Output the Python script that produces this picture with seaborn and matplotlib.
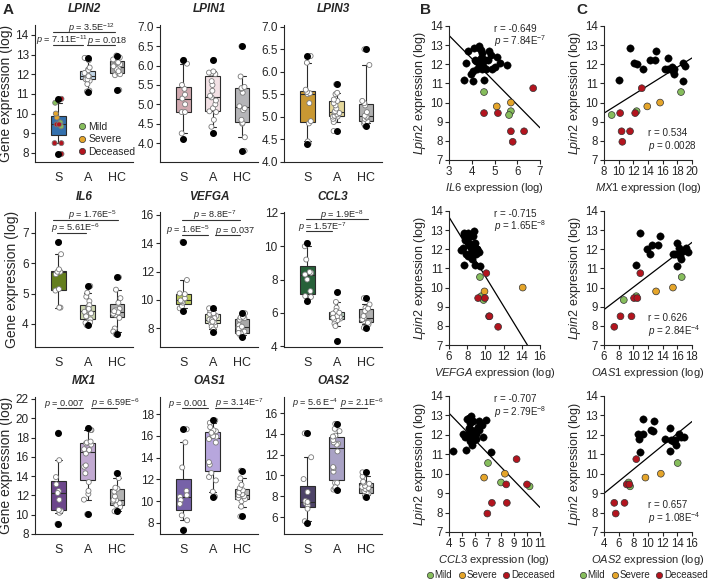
import pandas as pd
import seaborn as sns
import matplotlib
matplotlib.use('Agg')
from matplotlib import pyplot as plt
from matplotlib.lines import Line2D
from matplotlib.ticker import MultipleLocator, FormatStrFormatter

# ---- data ----
groups = ['S', 'A', 'HC']
# S patients, same order in every *_S list
severity = ['Mild', 'Mild', 'Mild', 'Severe', 'Severe', 'Deceased',
            'Deceased', 'Deceased', 'Deceased', 'Deceased', 'Deceased']

lpin2_S = [10.55, 9.55, 9.35, 9.8, 10.0, 10.75, 9.45, 9.45, 8.5, 8.5, 7.95]
lpin2_A = [11.17, 12.83, 12.06, 12.03, 11.77, 12.24, 12.2, 12.71, 11.77, 12.34,
           11.74, 11.88, 11.67, 11.5, 11.74, 11.12, 12.06, 11.9]
lpin2_HC = [12.85, 12.5, 11.95, 12.3, 12.7, 12.05, 12.95, 11.2, 12.25, 12.6,
            12.4, 12.0, 12.75, 12.15]

lpin1_S = [4.1, 4.25, 4.8, 4.8, 5.0, 5.15, 5.25, 5.4, 5.5, 6.05, 6.15]
lpin1_A = [4.25, 4.42, 4.6, 4.8, 4.82, 4.9, 5.0, 5.1, 5.18, 5.22, 5.35, 5.5,
           5.6, 5.78, 5.8, 5.82, 5.85, 6.15]
lpin1_HC = [3.8, 4.15, 4.5, 4.52, 4.6, 4.85, 4.9, 4.95, 5.3, 5.4, 5.42, 5.45, 5.72, 6.5]

lpin3_S = [4.4, 4.45, 4.85, 4.9, 5.3, 5.5, 5.52, 5.55, 5.6, 6.2, 6.35]
lpin3_A = [4.68, 4.88, 4.95, 5.0, 5.0, 5.02, 5.05, 5.08, 5.1, 5.12, 5.18, 5.25,
           5.3, 5.35, 5.38, 5.5, 5.53, 5.72]
lpin3_HC = [4.8, 4.85, 4.88, 4.9, 4.95, 4.98, 5.0, 5.02, 5.1, 5.25, 5.3, 5.35, 6.15, 6.5]

il6_S = [4.54, 5.72, 5.64, 5.1, 5.72, 6.7, 4.54, 5.15, 5.72, 6.3, 5.8]
il6_A = [4.54, 4.1, 5.25, 4.3, 4.45, 4.6, 4.15, 4.75, 4.9, 4.4, 4.25, 5.03,
         4.05, 3.96, 4.62, 4.04, 4.35, 4.5]
il6_HC = [4.3, 4.85, 5.54, 4.5, 3.85, 3.75, 4.34, 3.66, 4.7, 4.45, 5.13, 4.38, 4.42, 4.2]

vefga_S = [9.4, 9.55, 9.8, 9.9, 14.1, 10.1, 9.2, 9.95, 10.4, 10.45, 11.4]
vefga_A = [8.85, 7.7, 8.5, 9.1, 8.3, 8.6, 8.15, 8.4, 9.0, 8.9, 8.7, 9.25, 8.1,
           8.55, 7.9, 9.4, 8.45, 9.05]
vefga_HC = [8.05, 7.75, 7.35, 8.2, 8.6, 7.5, 8.7, 7.62, 8.75, 7.95, 8.1, 9.05, 7.65, 8.8]

ccl3_S = [7.0, 8.0, 10.2, 6.7, 8.3, 9.2, 8.4, 10.0, 7.3, 8.45, 6.95]
ccl3_A = [4.3, 5.35, 5.9, 6.05, 5.65, 6.3, 5.75, 5.85, 6.1, 5.55, 5.95, 6.65,
          5.6, 5.8, 5.7, 7.25, 6.0, 5.2]
ccl3_HC = [5.5, 6.5, 5.45, 5.65, 6.3, 5.1, 5.7, 5.3, 6.1, 5.6, 6.25, 5.4, 6.88, 5.8]

mx1_S = [18.5, 12.45, 9.05, 13.9, 15.65, 13.15, 10.2, 12.25, 10.4, 11.55, 10.5]
mx1_A = [10.05, 11.56, 12.15, 12.47, 13.38, 14.29, 14.97, 15.11, 16.34, 16.71,
         16.79, 17.26, 17.39, 17.48, 17.58, 18.77, 18.77, 18.99]
mx1_HC = [10.35, 10.4, 10.8, 11.0, 11.2, 11.4, 11.5, 11.55, 11.9, 12.4, 12.7, 12.8, 13.8, 14.3]

oas1_S = [16.6, 10.4, 8.7, 13.1, 15.4, 10.95, 10.1, 10.55, 8.25, 9.75, 7.4]
oas1_A = [10.42, 10.87, 17.19, 11.91, 12.22, 12.59, 13.35, 13.58, 15.38, 15.92,
          15.7, 17.41, 16.42, 16.51, 16.05, 15.97, 16.28, 16.8]
oas1_HC = [8.6, 9.5, 10.0, 10.2, 10.3, 10.45, 10.55, 10.65, 10.8, 11.0, 11.2, 11.5, 12.1, 12.8]

oas2_S = [14.05, 7.35, 7.55, 9.65, 11.75, 8.4, 7.1, 7.45, 5.4, 6.8, 5.6]
oas2_A = [13.05, 9.29, 8.64, 9.29, 8.72, 10.36, 10.71, 10.8, 12.31, 12.96,
          13.18, 14.48, 13.4, 13.83, 13.74, 8.86, 14.26, 14.96]
oas2_HC = [7.9, 8.1, 8.25, 8.3, 8.5, 8.7, 8.8, 8.9, 9.0, 9.2, 9.3, 9.4, 9.9, 10.3]

sev_pal = {'Mild': '#86bd5c', 'Severe': '#e5a52a', 'Deceased': '#b3141e', 'none': 'white'}

# ---- style ----
sns.set_style('ticks')
plt.rcParams['font.family'] = ['Liberation Sans', 'DejaVu Sans']
plt.rcParams['mathtext.fontset'] = 'custom'
plt.rcParams['mathtext.rm'] = 'Liberation Sans'
plt.rcParams['mathtext.it'] = 'Liberation Sans:italic'
plt.rcParams['mathtext.bf'] = 'Liberation Sans:bold'
plt.rcParams['axes.linewidth'] = 0.8

W, H = 709, 581
fig = plt.figure(figsize=(W / 100, H / 100), dpi=100)


def px_axes(left, top, right, bottom):
    return fig.add_axes([left / W, 1 - bottom / H, (right - left) / W, (bottom - top) / H])


def ptxt(num, exp=None):
    if exp is None:
        return r'$p$ = ' + num
    return r'$p$ = ' + num + r'E$^{' + exp + '}$'


def box_panel(ax, title, s, a, hc, cols, ylim, step, fmt='%d', colored=False):
    df = pd.DataFrame({'grp': ['S'] * len(s) + ['A'] * len(a) + ['HC'] * len(hc),
                       'val': s + a + hc})
    df['sev'] = (severity if colored else ['none'] * len(s)) + ['none'] * (len(a) + len(hc))
    sns.boxplot(data=df, x='grp', y='val', hue='grp', order=groups, hue_order=groups,
                palette=cols, legend=False, width=0.5, whis=(5, 95),
                linecolor='#2b2b2b', linewidth=0.8,
                flierprops=dict(marker='o', markerfacecolor='black', markeredgecolor='black',
                                markersize=4, zorder=4), ax=ax)
    sns.stripplot(data=df, x='grp', y='val', hue='sev', order=groups, palette=sev_pal,
                  jitter=0.13, size=3.6, edgecolor='#7a7a7a', linewidth=0.6,
                  legend=False, zorder=3, ax=ax)
    ax.set_xlim(-0.8, 2.55)
    ax.set_ylim(*ylim)
    ax.yaxis.set_major_locator(MultipleLocator(step))
    ax.yaxis.set_major_formatter(FormatStrFormatter(fmt))
    ax.set_xlabel('')
    ax.set_ylabel('')
    ax.tick_params(axis='x', length=0, labelsize=9, pad=7)
    ax.tick_params(axis='y', length=3, width=0.8, labelsize=8.5, pad=1.5)
    ax.set_title(title, fontsize=8.5, fontweight='bold', fontstyle='italic', pad=9)
    sns.despine(ax=ax)


def bracket(ax, x0, x1, y, text, tx):
    ax.plot([x0, x1], [y, y], color='#333333', lw=0.8, clip_on=False)
    ax.annotate(text, (tx, y), xytext=(0, 1.2), textcoords='offset points',
                ha='left', va='baseline', fontsize=6.6, annotation_clip=False)


cols_left = [35, 160, 284]
rows = [(25, 162), (212, 347), (397, 534)]
axs = [[px_axes(l, t, l + 98, b) for l in cols_left] for (t, b) in rows]

grey = '#b0b0b0'
box_panel(axs[0][0], 'LPIN2', lpin2_S, lpin2_A, lpin2_HC, ['#1f70c1', '#bcd6ee', '#a4a4a4'],
          (7.54, 14.5), 1, colored=True)
box_panel(axs[0][1], 'LPIN1', lpin1_S, lpin1_A, lpin1_HC, ['#d8a2ac', '#f5dee3', '#b4b4b8'],
          (3.51, 7.05), 0.5, '%.1f')
box_panel(axs[0][2], 'LPIN3', lpin3_S, lpin3_A, lpin3_HC, ['#e2a11a', '#f1e08f', grey],
          (3.99, 7.04), 0.5, '%.1f')
box_panel(axs[1][0], 'IL6', il6_S, il6_A, il6_HC, ['#6b8e0e', '#cfdcaa', grey],
          (3.24, 7.69), 1)
box_panel(axs[1][1], 'VEFGA', vefga_S, vefga_A, vefga_HC, ['#c8dc4a', '#e6efc0', '#a8a8a8'],
          (6.66, 16.21), 2)
box_panel(axs[1][2], 'CCL3', ccl3_S, ccl3_A, ccl3_HC, ['#1d6b35', '#b6d8be', grey],
          (3.94, 12.06), 2)
box_panel(axs[2][0], 'MX1', mx1_S, mx1_A, mx1_HC, ['#6d3a97', '#c3a3d9', '#b3b3b3'],
          (8.0, 22.2), 2)
box_panel(axs[2][1], 'OAS1', oas1_S, oas1_A, oas1_HC, ['#7256b4', '#b49de6', '#b8b8b8'],
          (6.99, 19.56), 2)
box_panel(axs[2][2], 'OAS2', oas2_S, oas2_A, oas2_HC, ['#4a3d6e', '#a59ccb', grey],
          (4.37, 17.54), 2)

for r in range(3):
    axs[r][0].set_ylabel('Gene expression (log)', fontsize=10, labelpad=2)

# significance brackets
bracket(axs[0][0], -0.18, 1.94, 14.13, ptxt('3.5', '-12'), 0.33)
bracket(axs[0][0], -0.18, 0.84, 13.5, ptxt('7.11', '-11'), -0.77)
bracket(axs[0][0], 0.99, 1.94, 13.5, ptxt('0.018'), 0.99)
bracket(axs[1][0], -0.18, 2.04, 7.43, ptxt('1.76', '-5'), 0.33)
bracket(axs[1][0], -0.05, 0.94, 7.0, ptxt('5.61', '-6'), -0.25)
bracket(axs[1][1], -0.05, 1.94, 15.65, ptxt('8.8', '-7'), 0.33)
bracket(axs[1][1], -0.05, 0.84, 14.58, ptxt('1.6', '-5'), -0.6)
bracket(axs[1][1], 1.08, 1.94, 14.58, ptxt('0.037'), 1.08)
bracket(axs[1][2], -0.05, 2.07, 11.62, ptxt('1.9', '-8'), 0.43)
bracket(axs[1][2], -0.05, 0.84, 10.9, ptxt('1.57', '-7'), -0.32)
bracket(axs[2][0], -0.05, 0.84, 21.07, ptxt('0.007'), -0.49)
bracket(axs[2][0], 1.11, 2.0, 21.07, ptxt('6.59', '-6'), 1.11)
bracket(axs[2][1], -0.05, 0.84, 18.55, ptxt('0.001'), -0.53)
bracket(axs[2][1], 1.08, 2.0, 18.55, ptxt('3.14', '-7'), 1.08)
bracket(axs[2][2], 0.02, 0.88, 16.48, ptxt('5.6 ', '-4'), -0.53)
bracket(axs[2][2], 1.11, 2.04, 16.48, ptxt('2.1', '-6'), 1.11)

sev_handles = [Line2D([0], [0], marker='o', ls='', markerfacecolor=sev_pal[k],
                      markeredgecolor='#333333', markeredgewidth=0.5, markersize=4.5)
               for k in ['Mild', 'Severe', 'Deceased']]
axs[0][0].legend(sev_handles, ['Mild', 'Severe', 'Deceased'], loc='lower right',
                 frameon=False, fontsize=7.5, handletextpad=0.1, labelspacing=0.25,
                 borderaxespad=0.1, handlelength=1.0, bbox_to_anchor=(1.08, 0.0))


# ---- correlation panels ----
def scatter_panel(ax, gene, xs_s, xs_k, ys_k, xlim, xstep, r_txt, p_txt, tpos):
    ax.set_xlim(*xlim)
    ax.set_ylim(7, 14)
    all_x = xs_s + xs_k
    all_y = lpin2_S + ys_k
    sns.regplot(x=all_x, y=all_y, scatter=False, ci=None, truncate=False, color='black',
                line_kws=dict(lw=0.9), ax=ax)
    sns.scatterplot(x=xs_k, y=ys_k, color='black', s=28, edgecolor='black', linewidth=0.3,
                    zorder=3, ax=ax)
    sns.scatterplot(x=xs_s, y=lpin2_S, hue=severity, palette=sev_pal, s=24,
                    edgecolor='#333333', linewidth=0.5, legend=False, zorder=4, ax=ax)
    ax.set_xlim(*xlim)
    ax.set_ylim(7, 14)
    ax.xaxis.set_major_locator(MultipleLocator(xstep))
    ax.yaxis.set_major_locator(MultipleLocator(1))
    ax.tick_params(length=3, width=0.8, labelsize=8.3, pad=1.5)
    ax.set_ylabel(r'$\it{Lpin2}$ expression (log)', fontsize=9, labelpad=1)
    ax.set_xlabel(r'$\it{' + gene + '}$ expression (log)', fontsize=8, labelpad=2)
    ax.text(tpos[0], tpos[1], r_txt, transform=ax.transAxes, fontsize=7.1, va='center')
    ax.text(tpos[0], tpos[1] - 0.095, p_txt, transform=ax.transAxes, fontsize=7.1, va='center')
    sns.despine(ax=ax)


srows = [(26, 160), (211, 345), (396, 532)]
bx = [px_axes(449, t, 540, b) for (t, b) in srows]
cx = [px_axes(604, t, 692, b) for (t, b) in srows]

scatter_panel(bx[0], 'IL6', il6_S, il6_A + il6_HC, lpin2_A + lpin2_HC, (3, 7), 1,
              'r = -0.649', ptxt('7.84', '-7'), (0.5, 0.98))
scatter_panel(bx[1], 'VEFGA', vefga_S, vefga_A + vefga_HC, lpin2_A + lpin2_HC, (6, 16), 2,
              'r = -0.715', ptxt('1.65', '-8'), (0.5, 0.98))
scatter_panel(bx[2], 'CCL3', ccl3_S, ccl3_A + ccl3_HC, lpin2_A + lpin2_HC, (4, 11), 1,
              'r = -0.707', ptxt('2.79', '-8'), (0.5, 0.98))
scatter_panel(cx[0], 'MX1', mx1_S, mx1_A, lpin2_A, (8, 20), 2,
              'r = 0.534', ptxt('0.0028'), (0.5, 0.2))
scatter_panel(cx[1], 'OAS1', oas1_S, oas1_A, lpin2_A, (6, 18), 2,
              'r = 0.626', ptxt('2.84', '-4'), (0.5, 0.2))
scatter_panel(cx[2], 'OAS2', oas2_S, oas2_A, lpin2_A, (4, 16), 2,
              'r = 0.657', ptxt('1.08', '-4'), (0.5, 0.2))

for xc in [490, 643]:
    fig.legend(sev_handles, ['Mild', 'Severe', 'Deceased'], loc='center', ncol=3,
               bbox_to_anchor=(xc / W, 1 - 575 / H), frameon=False, fontsize=7,
               handletextpad=0.0, columnspacing=0.45, handlelength=1.0, borderpad=0.1)

# panel letters
for lab, x in [('A', 3), ('B', 420), ('C', 576)]:
    fig.text(x / W, 1 - 3 / H, lab, fontsize=11, fontweight='bold', va='top', ha='left')

plt.savefig('out.png', dpi=100)
plt.close()
